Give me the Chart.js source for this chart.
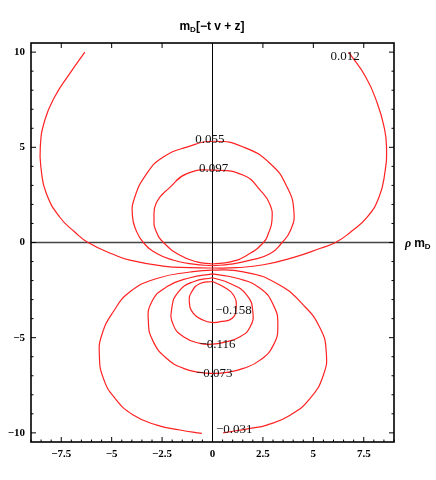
<!DOCTYPE html>
<html>
<head>
<meta charset="utf-8">
<script src="https://cdn.jsdelivr.net/npm/chart.js@4.4.0/dist/chart.umd.min.js"></script>
<style>
  html, body { margin: 0; padding: 0; background: #fff; }
  canvas { display: block; }
</style>
</head>
<body>
<canvas id="contourChart" width="436" height="480"></canvas>
<script>
// contour levels and the points ([rho, z])
const levels = [0.012, 0.055, 0.097, -0.031, -0.073, -0.116, -0.158];

const c012 = [[-6.33,10],[-7.08,8.87],[-7.83,7.64],[-8.32,6.41],[-8.54,5.01],[-8.49,3.79],[-8.24,2.57],
  [-7.58,1.34],[-6.83,0.55],[-6.17,0],[-4.93,-0.62],[-4.1,-0.93],[-2.44,-1.24],[-1.11,-1.32],[0,-1.34],
  [1.2,-1.32],[2.53,-1.17],[4.03,-0.78],[5.36,-0.3],[6.1,0],[6.85,0.55],[7.68,1.34],[8.26,2.39],
  [8.54,3.62],[8.63,5.01],[8.51,6.06],[8.18,7.29],[7.6,8.69],[6.75,10]];

const c055 = [[0,-1.22],[-0.94,-1.14],[-1.93,-0.93],[-2.76,-0.58],[-3.43,0],[-3.79,0.64],[-3.97,1.4],
  [-3.88,2.3],[-3.26,3.62],[-2.44,4.49],[-1.27,5.01],[0.1,5.32],[1.54,5.01],[2.87,4.14],[3.7,2.91],
  [4.04,1.6],[3.87,0.64],[3.45,0],[2.87,-0.58],[1.88,-0.93],[0.88,-1.14],[0,-1.22]];

const c097 = [[0,-1.13],[-0.78,-1.02],[-1.61,-0.67],[-2.43,0],[-2.8,0.6],[-2.9,1.2],[-2.78,2.1],
  [-2.1,2.91],[-1.27,3.62],[0.05,3.8],[1.54,3.53],[2.37,2.74],[2.85,2.0],[2.95,1.17],[2.78,0.5],
  [2.53,0],[1.71,-0.67],[0.88,-1.02],[0,-1.13]];

const cm031 = [[-0.53,-10.03],[-1.61,-9.85],[-2.76,-9.59],[-3.93,-9.06],[-4.83,-8.19],[-5.41,-7.14],
  [-5.61,-5.91],[-5.49,-4.86],[-4.92,-3.64],[-4.09,-2.59],[-2.76,-1.89],[-1.11,-1.55],[0,-1.45],
  [1.53,-1.54],[3.19,-2.15],[4.51,-3.29],[5.34,-4.51],[5.64,-5.74],[5.5,-6.96],[4.84,-8.19],
  [3.85,-9.07],[2.69,-9.59],[1.87,-9.76],[0.53,-10.0]];

const cm073 = [[0,-1.65],[-1.11,-1.85],[-2.27,-2.33],[-3.01,-3.11],[-3.18,-4.16],[-2.93,-5.22],
  [-2.27,-6.09],[-1.44,-6.61],[-0.62,-6.82],[0,-6.87],[0.71,-6.82],[1.53,-6.61],[2.36,-6.18],
  [3.02,-5.39],[3.24,-4.34],[3.02,-3.29],[2.36,-2.4],[1.21,-1.88],[0,-1.65]];

const cm116 = [[0,-1.85],[-0.95,-2.06],[-1.69,-2.59],[-2.02,-3.46],[-1.94,-4.34],[-1.44,-4.95],
  [-0.62,-5.3],[0,-5.34],[0.54,-5.25],[1.37,-4.95],[1.87,-4.43],[2.0,-3.64],[1.7,-2.76],
  [0.87,-2.15],[0,-1.85]];

const cm158 = [[0,-2.05],[-0.62,-2.15],[-1.03,-2.59],[-1.15,-3.11],[-0.95,-3.72],[-0.45,-4.08],
  [0,-4.2],[0.38,-4.16],[0.96,-3.99],[1.17,-3.46],[1.04,-2.76],[0.54,-2.33],[0,-2.05]];

const contours = [c012, c055, c097, cm031, cm073, cm116, cm158];

// where each level's label sits on its line
const labelAt = [[6.58,9.79],[-0.13,5.41],[0.05,3.86],[1.08,-9.85],[0.09,-6.88],[0.25,-5.34],[1.04,-3.6]];

// frame tick labels
const xTicks = [-7.5, -5, -2.5, 0, 2.5, 5, 7.5];
const yTicks = [-10, -5, 0, 5, 10];

const fmt = v => String(v).replace('-', '\u2212');

const framePlugin = {
  id: 'frame',
  beforeDatasetsDraw(chart) {
    const { ctx, chartArea: a, scales: { x, y } } = chart;
    ctx.save();
    // axes through the origin
    ctx.strokeStyle = '#444';
    ctx.lineWidth = 1.3;
    ctx.beginPath();
    ctx.moveTo(a.left, y.getPixelForValue(0));
    ctx.lineTo(a.right, y.getPixelForValue(0));
    ctx.stroke();
    ctx.strokeStyle = '#000';
    ctx.lineWidth = 1;
    ctx.beginPath();
    ctx.moveTo(x.getPixelForValue(0), a.top);
    ctx.lineTo(x.getPixelForValue(0), a.bottom);
    ctx.stroke();
    ctx.restore();
  },
  afterDatasetsDraw(chart) {
    const { ctx, chartArea: a, scales: { x, y } } = chart;
    ctx.save();
    // contour labels
    ctx.fillStyle = '#111';
    ctx.font = '13px "Liberation Serif"';
    ctx.textAlign = 'center';
    ctx.textBaseline = 'middle';
    levels.forEach((lv, i) => {
      ctx.fillText(fmt(lv.toFixed(3)), x.getPixelForValue(labelAt[i][0]), y.getPixelForValue(labelAt[i][1]));
    });

    // frame
    ctx.strokeStyle = '#000';
    ctx.lineWidth = 1.6;
    ctx.strokeRect(a.left, a.top, a.right - a.left, a.bottom - a.top);

    // ticks, pointing inward
    ctx.lineWidth = 1;
    ctx.beginPath();
    for (let v = -9; v <= 9.001; v += 0.5) {
      const px = x.getPixelForValue(v);
      const major = xTicks.includes(v);
      const len = major ? 5 : 2.5;
      ctx.moveTo(px, a.bottom); ctx.lineTo(px, a.bottom - len);
      if (major) { ctx.moveTo(px, a.top); ctx.lineTo(px, a.top + len); }
    }
    for (let v = -10; v <= 10; v += 1) {
      const py = y.getPixelForValue(v);
      const len = yTicks.includes(v) ? 5 : 2.5;
      ctx.moveTo(a.left, py); ctx.lineTo(a.left + len, py);
      ctx.moveTo(a.right, py); ctx.lineTo(a.right - len, py);
    }
    ctx.stroke();

    // tick labels
    ctx.fillStyle = '#000';
    ctx.font = 'bold 11px "Liberation Serif"';
    ctx.textAlign = 'center';
    ctx.textBaseline = 'middle';
    xTicks.forEach(v => ctx.fillText(fmt(v), x.getPixelForValue(v), 454));
    ctx.textAlign = 'right';
    yTicks.forEach(v => ctx.fillText(fmt(v), 25, y.getPixelForValue(v)));

    // title  m_D[-t v + z]
    const big = 'bold 12px "Liberation Sans"', small = 'bold 8px "Liberation Sans"';
    const rest = '[\u2212t v + z]';
    ctx.textAlign = 'left';
    ctx.textBaseline = 'alphabetic';
    ctx.font = big; const wm = ctx.measureText('m').width, wr = ctx.measureText(rest).width;
    ctx.font = small; const wd = ctx.measureText('D').width;
    let tx = 212 - (wm + wd + wr) / 2;
    ctx.font = big; ctx.fillText('m', tx, 30); tx += wm;
    ctx.font = small; ctx.fillText('D', tx, 32); tx += wd;
    ctx.font = big; ctx.fillText(rest, tx, 30);

    // horizontal axis label  rho m_D
    const ay = y.getPixelForValue(0) + 4;
    let ax = a.right + 11;
    ctx.font = 'bold italic 12px "Liberation Serif"'; ctx.fillText('\u03c1', ax, ay);
    ax += ctx.measureText('\u03c1 ').width;
    ctx.font = big; ctx.fillText('m', ax, ay); ax += ctx.measureText('m').width;
    ctx.font = small; ctx.fillText('D', ax, ay + 2);
    ctx.restore();
  }
};

const ctx = document.getElementById('contourChart').getContext('2d');
const chart = new Chart(ctx, {
  type: 'line',
  data: {
    datasets: contours.map((c, i) => ({
      label: fmt(levels[i].toFixed(3)),
      data: c.map(p => ({ x: p[0], y: p[1] })),
      borderColor: '#ff2222',
      borderWidth: 1.2,
      pointRadius: 0,
      fill: false,
      tension: 0.5
    }))
  },
  options: {
    responsive: false,
    animation: false,
    layout: { padding: { left: 31, right: 42, top: 43, bottom: 38 } },
    scales: {
      x: { type: 'linear', min: -9, max: 9, display: false },
      y: { type: 'linear', min: -10.48, max: 10.48, display: false }
    },
    plugins: { legend: { display: false }, tooltip: { enabled: false } }
  },
  plugins: [framePlugin]
});
</script>
</body>
</html>
